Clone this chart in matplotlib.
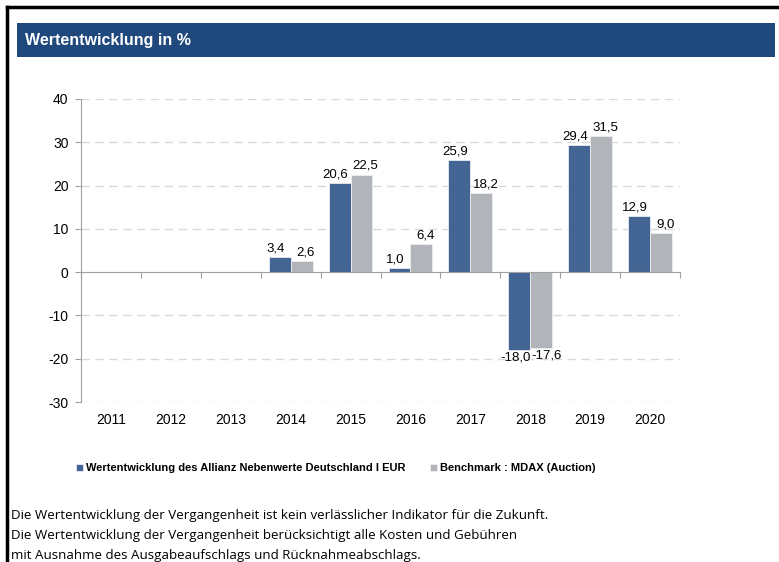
import matplotlib.pyplot as plt
import matplotlib.transforms as mtransforms
from matplotlib.patches import Rectangle
from matplotlib.lines import Line2D
import numpy as np

plt.rcParams['font.family'] = ['Liberation Sans', 'DejaVu Sans']
plt.rcParams['axes.unicode_minus'] = False

years = ['2011', '2012', '2013', '2014', '2015', '2016', '2017', '2018', '2019', '2020']
fund = [None, None, None, 3.4, 20.6, 1.0, 25.9, -18.0, 29.4, 12.9]
bench = [None, None, None, 2.6, 22.5, 6.4, 18.2, -17.6, 31.5, 9.0]
fund_label = 'Wertentwicklung des Allianz Nebenwerte Deutschland I EUR'
bench_label = 'Benchmark : MDAX (Auction)'
footer = ['Die Wertentwicklung der Vergangenheit ist kein verlässlicher Indikator für die Zukunft.',
          'Die Wertentwicklung der Vergangenheit berücksichtigt alle Kosten und Gebühren',
          'mit Ausnahme des Ausgabeaufschlags und Rücknahmeabschlags.']

blue = '#426594'
grey = '#b1b5b9'
W, H = 779, 562

fig = plt.figure(figsize=(W / 100, H / 100), dpi=100)

# frame lines and header band
fig.add_artist(Line2D([7 / W, 7 / W], [0, 1 - 7 / H], color='black', lw=2.5, transform=fig.transFigure))
fig.add_artist(Line2D([7 / W, 1], [1 - 7 / H, 1 - 7 / H], color='black', lw=2.5, transform=fig.transFigure))
fig.patches.append(Rectangle((17 / W, 1 - 57 / H), (775 - 17) / W, 34 / H, transform=fig.transFigure,
                             facecolor='#1f497d', edgecolor='none'))
fig.text(25 / W, 1 - 40 / H, 'Wertentwicklung in %', color='white', fontsize=11.5, fontweight='bold',
         va='center')

ax = fig.add_axes([81 / W, 1 - 402 / H, (680 - 81) / W, (402 - 99) / H])
x = np.arange(len(years))
w = 0.365
fv = [np.nan if v is None else v for v in fund]
bv = [np.nan if v is None else v for v in bench]
b1 = ax.bar(x - w / 2, fv, w, color=blue, edgecolor='#e8ecf2', linewidth=0.6, label=fund_label, zorder=3)
b2 = ax.bar(x + w / 2, bv, w, color=grey, edgecolor='#eeeeee', linewidth=0.6, label=bench_label, zorder=3)

# value labels; pushed a little apart like in the original
for bars, vals, side, dx in ((b1, fund, 'right', -3), (b2, bench, 'left', 3)):
    for i, (rect, v) in enumerate(zip(bars, vals)):
        if v is None:
            continue
        txt = f'{v:.1f}'.replace('.', ',')
        if v >= 0:
            cx = rect.get_x() + rect.get_width() / 2
            ax.annotate(txt, (cx, v), xytext=(dx, 2), textcoords='offset points',
                        ha='center', va='bottom', fontsize=9.5)
        else:
            ax.annotate(txt, (x[i], v), xytext=(1 if side == 'left' else 0, -1), textcoords='offset points',
                        ha=side, va='top', fontsize=9.5)

ax.set_ylim(-30, 40)
ax.set_xlim(-0.5, len(years) - 0.5)
ax.set_yticks(range(-30, 41, 10))
ax.tick_params(axis='y', labelsize=10, length=4, color='#a0a0a0', pad=5)
for y in range(-30, 41, 10):
    if y != 0:
        ax.axhline(y, color='#d9d9d9', lw=1, dashes=(6, 4), zorder=1)

for s in ('top', 'right'):
    ax.spines[s].set_visible(False)
ax.spines['left'].set_color('#a0a0a0')
ax.spines['bottom'].set_position(('data', 0))
ax.spines['bottom'].set_color('#a0a0a0')
ax.spines['bottom'].set_zorder(4)
ax.set_xticks(np.arange(-0.5, len(years), 1.0))
ax.set_xticklabels([])
ax.tick_params(axis='x', length=4, color='#a0a0a0', direction='out')

trans = mtransforms.blended_transform_factory(ax.transData, ax.transAxes)
for i, yr in enumerate(years):
    ax.text(i, -0.035, yr, transform=trans, ha='center', va='top', fontsize=10)

fig.legend(handles=[b1, b2], loc='center left', bbox_to_anchor=(72 / W, 1 - 468 / H), ncol=2, frameon=False,
           prop={'size': 8, 'weight': 'bold'}, handlelength=0.6, handleheight=0.6,
           handletextpad=0.3, columnspacing=2.2, borderaxespad=0)

for i, line in enumerate(footer):
    fig.text(11 / W, 1 - (515 + i * 20.5) / H, line, fontsize=9.6, va='center', family=['Open Sans', 'DejaVu Sans'])

fig.savefig('out.png', dpi=100)
